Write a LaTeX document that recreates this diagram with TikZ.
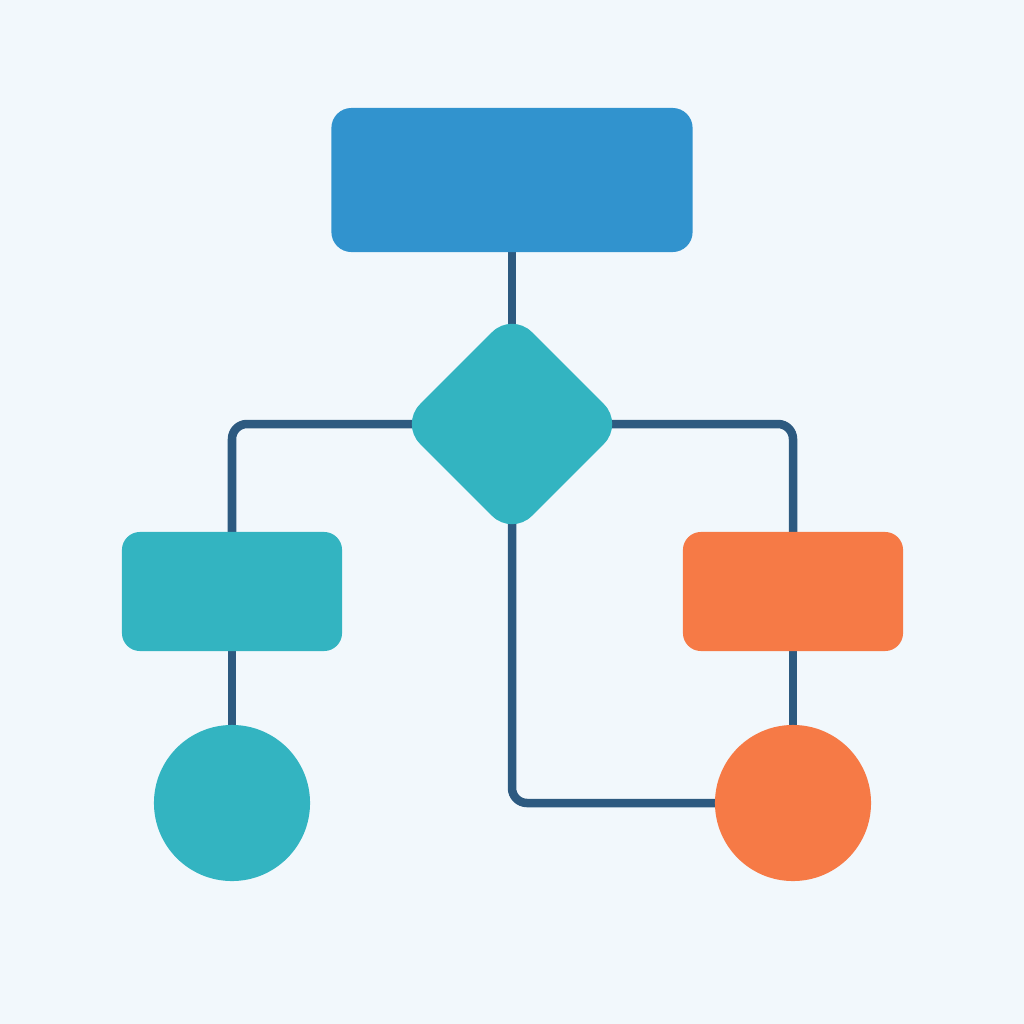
\documentclass[tikz,border=0pt]{standalone}
\usetikzlibrary{backgrounds}
\definecolor{bgc}{HTML}{F2F8FC}
\definecolor{topblue}{HTML}{3193CE}
\definecolor{teal}{HTML}{33B4C1}
\definecolor{orng}{HTML}{F67A46}
\definecolor{linec}{HTML}{2D5A80}
\tikzset{
  box/.style={rectangle, inner sep=0pt, outer sep=0pt, rounded corners=0.18cm},
  circ/.style={circle, inner sep=0pt, outer sep=0pt, minimum size=1.56cm},
  conn/.style={draw=linec, line width=0.085cm, rounded corners=0.15cm},
}
\begin{document}
\begin{tikzpicture}[x=0.01cm,y=-0.01cm]
\useasboundingbox (0,0) rectangle (1024,1024);
\node[box, fill=topblue, minimum width=3.61cm, minimum height=1.44cm, rounded corners=0.2cm] (top) at (512,180) {};
\node[rectangle, rotate=45, fill=teal, inner sep=0pt, outer sep=0pt, minimum size=1.58cm, rounded corners=0.28cm] (dia) at (512,424) {};
\node[box, fill=teal, minimum width=2.2cm, minimum height=1.19cm] (lrect) at (232,591.5) {};
\node[box, fill=orng, minimum width=2.2cm, minimum height=1.19cm] (rrect) at (793,591.5) {};
\node[circ, fill=teal] (lcirc) at (232,803) {};
\node[circ, fill=orng] (rcirc) at (793,803) {};
\begin{scope}[on background layer]
  \fill[bgc] (0,0) rectangle (1024,1024);
  \draw[conn] (top.center) -- (dia.center);
  \draw[conn] (dia.center) -| (lrect.center);
  \draw[conn] (dia.center) -| (rrect.center);
  \draw[conn] (dia.center) |- (rcirc.center);
  \draw[conn] (lrect.center) -- (lcirc.center);
  \draw[conn] (rrect.center) -- (rcirc.center);
\end{scope}
\end{tikzpicture}
\end{document}
